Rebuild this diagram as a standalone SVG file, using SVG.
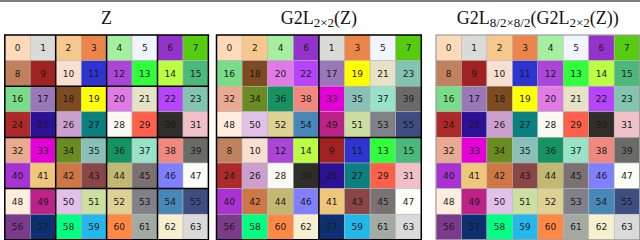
<svg xmlns="http://www.w3.org/2000/svg" width="640" height="240" viewBox="0 0 640 240">
<style>
.bg{fill:#ffffff}
.rule{stroke:#555555;stroke-width:1.5;fill:none}
.title{font-family:"Liberation Serif","DejaVu Serif",serif;font-size:18px;fill:#111111;text-anchor:middle}
.sub{font-size:13px}
rect.k{stroke:#b4b4b4;stroke-width:0.5}
text.n{font-family:"DejaVu Sans",sans-serif;font-size:9px;fill:#1a1a1a;text-anchor:middle}
.thick{stroke:#000000;stroke-width:1.5;fill:none}
.outer3{stroke:#9a9a9a;stroke-width:1;fill:none}
.c0{fill:#FFDAB9}.c1{fill:#DADAD6}.c2{fill:#F6C88E}.c3{fill:#EB8549}.c4{fill:#A6EFA0}.c5{fill:#F2F4FF}.c6{fill:#9433CC}.c7{fill:#55CC10}
.c8{fill:#C0825E}.c9{fill:#A02222}.c10{fill:#F9DFCF}.c11{fill:#2E34CF}.c12{fill:#A946D8}.c13{fill:#30FF3C}.c14{fill:#BBFF44}.c15{fill:#4CB87A}
.c16{fill:#78DC88}.c17{fill:#9A78B8}.c18{fill:#7E4A22}.c19{fill:#FFFF00}.c20{fill:#E07BE6}.c21{fill:#E6E2C6}.c22{fill:#B743FA}.c23{fill:#82C4B0}
.c24{fill:#AE2A2A}.c25{fill:#2C1096}.c26{fill:#CCA0CE}.c27{fill:#0A8080}.c28{fill:#FAFAF2}.c29{fill:#FF604C}.c30{fill:#2F2E28}.c31{fill:#F0BFC8}
.c32{fill:#E8AA90}.c33{fill:#E600D8}.c34{fill:#6A8A22}.c35{fill:#88C0B8}.c36{fill:#159462}.c37{fill:#98E2C8}.c38{fill:#F08880}.c39{fill:#6A6A66}
.c40{fill:#A832D2}.c41{fill:#EFC77A}.c42{fill:#CC7744}.c43{fill:#8A4646}.c44{fill:#C2B872}.c45{fill:#7A7272}.c46{fill:#8080FF}.c47{fill:#FBFFF8}
.c48{fill:#FFEEDD}.c49{fill:#BC2288}.c50{fill:#E2C0EA}.c51{fill:#CCDFA0}.c52{fill:#DED292}.c53{fill:#808088}.c54{fill:#4888B8}.c55{fill:#3E4E80}
.c56{fill:#7C3A8C}.c57{fill:#0E3070}.c58{fill:#00FF82}.c59{fill:#22B8EC}.c60{fill:#FF8844}.c61{fill:#A2AAA2}.c62{fill:#F6F0D0}.c63{fill:#DADADA}
</style>
<rect class="bg" x="0" y="0" width="640" height="240"/>
<line class="rule" x1="0" y1="1" x2="640" y2="1"/>

<g id="titles">
<text class="title" x="106.6" y="24">Z</text>
<text class="title" x="318.9" y="24">G2L<tspan class="sub" dy="3">2×2</tspan><tspan dy="-3">(Z)</tspan></text>
<text class="title" x="537.8" y="24">G2L<tspan class="sub" dy="3">8/2×8/2</tspan><tspan dy="-3">(G2L</tspan><tspan class="sub" dy="3">2×2</tspan><tspan dy="-3">(Z))</tspan></text>
</g>

<g id="grid-Z">
<g id="z-cells">
<rect class="k c0" x="4.8" y="35" width="25.5" height="25.6"/><rect class="k c1" x="30.2" y="35" width="25.5" height="25.6"/><rect class="k c2" x="55.7" y="35" width="25.5" height="25.6"/><rect class="k c3" x="81.2" y="35" width="25.5" height="25.6"/><rect class="k c4" x="106.6" y="35" width="25.5" height="25.6"/><rect class="k c5" x="132" y="35" width="25.5" height="25.6"/><rect class="k c6" x="157.5" y="35" width="25.5" height="25.6"/><rect class="k c7" x="183" y="35" width="25.4" height="25.6"/>
<rect class="k c8" x="4.8" y="60.6" width="25.5" height="25.6"/><rect class="k c9" x="30.2" y="60.6" width="25.5" height="25.6"/><rect class="k c10" x="55.7" y="60.6" width="25.5" height="25.6"/><rect class="k c11" x="81.2" y="60.6" width="25.5" height="25.6"/><rect class="k c12" x="106.6" y="60.6" width="25.5" height="25.6"/><rect class="k c13" x="132" y="60.6" width="25.5" height="25.6"/><rect class="k c14" x="157.5" y="60.6" width="25.5" height="25.6"/><rect class="k c15" x="183" y="60.6" width="25.4" height="25.6"/>
<rect class="k c16" x="4.8" y="86.2" width="25.5" height="25.6"/><rect class="k c17" x="30.2" y="86.2" width="25.5" height="25.6"/><rect class="k c18" x="55.7" y="86.2" width="25.5" height="25.6"/><rect class="k c19" x="81.2" y="86.2" width="25.5" height="25.6"/><rect class="k c20" x="106.6" y="86.2" width="25.5" height="25.6"/><rect class="k c21" x="132" y="86.2" width="25.5" height="25.6"/><rect class="k c22" x="157.5" y="86.2" width="25.5" height="25.6"/><rect class="k c23" x="183" y="86.2" width="25.4" height="25.6"/>
<rect class="k c24" x="4.8" y="111.8" width="25.5" height="25.6"/><rect class="k c25" x="30.2" y="111.8" width="25.5" height="25.6"/><rect class="k c26" x="55.7" y="111.8" width="25.5" height="25.6"/><rect class="k c27" x="81.2" y="111.8" width="25.5" height="25.6"/><rect class="k c28" x="106.6" y="111.8" width="25.5" height="25.6"/><rect class="k c29" x="132" y="111.8" width="25.5" height="25.6"/><rect class="k c30" x="157.5" y="111.8" width="25.5" height="25.6"/><rect class="k c31" x="183" y="111.8" width="25.4" height="25.6"/>
<rect class="k c32" x="4.8" y="137.4" width="25.5" height="25.6"/><rect class="k c33" x="30.2" y="137.4" width="25.5" height="25.6"/><rect class="k c34" x="55.7" y="137.4" width="25.5" height="25.6"/><rect class="k c35" x="81.2" y="137.4" width="25.5" height="25.6"/><rect class="k c36" x="106.6" y="137.4" width="25.5" height="25.6"/><rect class="k c37" x="132" y="137.4" width="25.5" height="25.6"/><rect class="k c38" x="157.5" y="137.4" width="25.5" height="25.6"/><rect class="k c39" x="183" y="137.4" width="25.4" height="25.6"/>
<rect class="k c40" x="4.8" y="163" width="25.5" height="25.6"/><rect class="k c41" x="30.2" y="163" width="25.5" height="25.6"/><rect class="k c42" x="55.7" y="163" width="25.5" height="25.6"/><rect class="k c43" x="81.2" y="163" width="25.5" height="25.6"/><rect class="k c44" x="106.6" y="163" width="25.5" height="25.6"/><rect class="k c45" x="132" y="163" width="25.5" height="25.6"/><rect class="k c46" x="157.5" y="163" width="25.5" height="25.6"/><rect class="k c47" x="183" y="163" width="25.4" height="25.6"/>
<rect class="k c48" x="4.8" y="188.6" width="25.5" height="25.6"/><rect class="k c49" x="30.2" y="188.6" width="25.5" height="25.6"/><rect class="k c50" x="55.7" y="188.6" width="25.5" height="25.6"/><rect class="k c51" x="81.2" y="188.6" width="25.5" height="25.6"/><rect class="k c52" x="106.6" y="188.6" width="25.5" height="25.6"/><rect class="k c53" x="132" y="188.6" width="25.5" height="25.6"/><rect class="k c54" x="157.5" y="188.6" width="25.5" height="25.6"/><rect class="k c55" x="183" y="188.6" width="25.4" height="25.6"/>
<rect class="k c56" x="4.8" y="214.2" width="25.5" height="25.6"/><rect class="k c57" x="30.2" y="214.2" width="25.5" height="25.6"/><rect class="k c58" x="55.7" y="214.2" width="25.5" height="25.6"/><rect class="k c59" x="81.2" y="214.2" width="25.5" height="25.6"/><rect class="k c60" x="106.6" y="214.2" width="25.5" height="25.6"/><rect class="k c61" x="132" y="214.2" width="25.5" height="25.6"/><rect class="k c62" x="157.5" y="214.2" width="25.5" height="25.6"/><rect class="k c63" x="183" y="214.2" width="25.4" height="25.6"/>
</g>
<g id="z-labels">
<text class="n" x="17.5" y="51.1">0</text><text class="n" x="43" y="51.1">1</text><text class="n" x="68.4" y="51.1">2</text><text class="n" x="93.9" y="51.1">3</text><text class="n" x="119.3" y="51.1">4</text><text class="n" x="144.8" y="51.1">5</text><text class="n" x="170.2" y="51.1">6</text><text class="n" x="195.7" y="51.1">7</text>
<text class="n" x="17.5" y="76.7">8</text><text class="n" x="43" y="76.7">9</text><text class="n" x="68.4" y="76.7">10</text><text class="n" x="93.9" y="76.7">11</text><text class="n" x="119.3" y="76.7">12</text><text class="n" x="144.8" y="76.7">13</text><text class="n" x="170.2" y="76.7">14</text><text class="n" x="195.7" y="76.7">15</text>
<text class="n" x="17.5" y="102.3">16</text><text class="n" x="43" y="102.3">17</text><text class="n" x="68.4" y="102.3">18</text><text class="n" x="93.9" y="102.3">19</text><text class="n" x="119.3" y="102.3">20</text><text class="n" x="144.8" y="102.3">21</text><text class="n" x="170.2" y="102.3">22</text><text class="n" x="195.7" y="102.3">23</text>
<text class="n" x="17.5" y="127.9">24</text><text class="n" x="43" y="127.9">25</text><text class="n" x="68.4" y="127.9">26</text><text class="n" x="93.9" y="127.9">27</text><text class="n" x="119.3" y="127.9">28</text><text class="n" x="144.8" y="127.9">29</text><text class="n" x="170.2" y="127.9">30</text><text class="n" x="195.7" y="127.9">31</text>
<text class="n" x="17.5" y="153.5">32</text><text class="n" x="43" y="153.5">33</text><text class="n" x="68.4" y="153.5">34</text><text class="n" x="93.9" y="153.5">35</text><text class="n" x="119.3" y="153.5">36</text><text class="n" x="144.8" y="153.5">37</text><text class="n" x="170.2" y="153.5">38</text><text class="n" x="195.7" y="153.5">39</text>
<text class="n" x="17.5" y="179.1">40</text><text class="n" x="43" y="179.1">41</text><text class="n" x="68.4" y="179.1">42</text><text class="n" x="93.9" y="179.1">43</text><text class="n" x="119.3" y="179.1">44</text><text class="n" x="144.8" y="179.1">45</text><text class="n" x="170.2" y="179.1">46</text><text class="n" x="195.7" y="179.1">47</text>
<text class="n" x="17.5" y="204.7">48</text><text class="n" x="43" y="204.7">49</text><text class="n" x="68.4" y="204.7">50</text><text class="n" x="93.9" y="204.7">51</text><text class="n" x="119.3" y="204.7">52</text><text class="n" x="144.8" y="204.7">53</text><text class="n" x="170.2" y="204.7">54</text><text class="n" x="195.7" y="204.7">55</text>
<text class="n" x="17.5" y="230.3">56</text><text class="n" x="43" y="230.3">57</text><text class="n" x="68.4" y="230.3">58</text><text class="n" x="93.9" y="230.3">59</text><text class="n" x="119.3" y="230.3">60</text><text class="n" x="144.8" y="230.3">61</text><text class="n" x="170.2" y="230.3">62</text><text class="n" x="195.7" y="230.3">63</text>
</g>
<path class="thick" d="M4.8 35H208.4V239.8H4.8Z M55.7 35V239.8 M106.6 35V239.8 M157.5 35V239.8 M4.8 86.2H208.4 M4.8 137.4H208.4 M4.8 188.6H208.4"/>
</g>

<g id="grid-G2L">
<g id="g-cells">
<rect class="k c0" x="216.5" y="35" width="25.6" height="25.6"/><rect class="k c2" x="242.1" y="35" width="25.6" height="25.6"/><rect class="k c4" x="267.7" y="35" width="25.6" height="25.6"/><rect class="k c6" x="293.3" y="35" width="25.6" height="25.6"/><rect class="k c1" x="318.9" y="35" width="25.6" height="25.6"/><rect class="k c3" x="344.5" y="35" width="25.6" height="25.6"/><rect class="k c5" x="370.1" y="35" width="25.6" height="25.6"/><rect class="k c7" x="395.7" y="35" width="25.6" height="25.6"/>
<rect class="k c16" x="216.5" y="60.6" width="25.6" height="25.6"/><rect class="k c18" x="242.1" y="60.6" width="25.6" height="25.6"/><rect class="k c20" x="267.7" y="60.6" width="25.6" height="25.6"/><rect class="k c22" x="293.3" y="60.6" width="25.6" height="25.6"/><rect class="k c17" x="318.9" y="60.6" width="25.6" height="25.6"/><rect class="k c19" x="344.5" y="60.6" width="25.6" height="25.6"/><rect class="k c21" x="370.1" y="60.6" width="25.6" height="25.6"/><rect class="k c23" x="395.7" y="60.6" width="25.6" height="25.6"/>
<rect class="k c32" x="216.5" y="86.2" width="25.6" height="25.6"/><rect class="k c34" x="242.1" y="86.2" width="25.6" height="25.6"/><rect class="k c36" x="267.7" y="86.2" width="25.6" height="25.6"/><rect class="k c38" x="293.3" y="86.2" width="25.6" height="25.6"/><rect class="k c33" x="318.9" y="86.2" width="25.6" height="25.6"/><rect class="k c35" x="344.5" y="86.2" width="25.6" height="25.6"/><rect class="k c37" x="370.1" y="86.2" width="25.6" height="25.6"/><rect class="k c39" x="395.7" y="86.2" width="25.6" height="25.6"/>
<rect class="k c48" x="216.5" y="111.8" width="25.6" height="25.6"/><rect class="k c50" x="242.1" y="111.8" width="25.6" height="25.6"/><rect class="k c52" x="267.7" y="111.8" width="25.6" height="25.6"/><rect class="k c54" x="293.3" y="111.8" width="25.6" height="25.6"/><rect class="k c49" x="318.9" y="111.8" width="25.6" height="25.6"/><rect class="k c51" x="344.5" y="111.8" width="25.6" height="25.6"/><rect class="k c53" x="370.1" y="111.8" width="25.6" height="25.6"/><rect class="k c55" x="395.7" y="111.8" width="25.6" height="25.6"/>
<rect class="k c8" x="216.5" y="137.4" width="25.6" height="25.6"/><rect class="k c10" x="242.1" y="137.4" width="25.6" height="25.6"/><rect class="k c12" x="267.7" y="137.4" width="25.6" height="25.6"/><rect class="k c14" x="293.3" y="137.4" width="25.6" height="25.6"/><rect class="k c9" x="318.9" y="137.4" width="25.6" height="25.6"/><rect class="k c11" x="344.5" y="137.4" width="25.6" height="25.6"/><rect class="k c13" x="370.1" y="137.4" width="25.6" height="25.6"/><rect class="k c15" x="395.7" y="137.4" width="25.6" height="25.6"/>
<rect class="k c24" x="216.5" y="163" width="25.6" height="25.6"/><rect class="k c26" x="242.1" y="163" width="25.6" height="25.6"/><rect class="k c28" x="267.7" y="163" width="25.6" height="25.6"/><rect class="k c30" x="293.3" y="163" width="25.6" height="25.6"/><rect class="k c25" x="318.9" y="163" width="25.6" height="25.6"/><rect class="k c27" x="344.5" y="163" width="25.6" height="25.6"/><rect class="k c29" x="370.1" y="163" width="25.6" height="25.6"/><rect class="k c31" x="395.7" y="163" width="25.6" height="25.6"/>
<rect class="k c40" x="216.5" y="188.6" width="25.6" height="25.6"/><rect class="k c42" x="242.1" y="188.6" width="25.6" height="25.6"/><rect class="k c44" x="267.7" y="188.6" width="25.6" height="25.6"/><rect class="k c46" x="293.3" y="188.6" width="25.6" height="25.6"/><rect class="k c41" x="318.9" y="188.6" width="25.6" height="25.6"/><rect class="k c43" x="344.5" y="188.6" width="25.6" height="25.6"/><rect class="k c45" x="370.1" y="188.6" width="25.6" height="25.6"/><rect class="k c47" x="395.7" y="188.6" width="25.6" height="25.6"/>
<rect class="k c56" x="216.5" y="214.2" width="25.6" height="25.6"/><rect class="k c58" x="242.1" y="214.2" width="25.6" height="25.6"/><rect class="k c60" x="267.7" y="214.2" width="25.6" height="25.6"/><rect class="k c62" x="293.3" y="214.2" width="25.6" height="25.6"/><rect class="k c57" x="318.9" y="214.2" width="25.6" height="25.6"/><rect class="k c59" x="344.5" y="214.2" width="25.6" height="25.6"/><rect class="k c61" x="370.1" y="214.2" width="25.6" height="25.6"/><rect class="k c63" x="395.7" y="214.2" width="25.6" height="25.6"/>
</g>
<g id="g-labels">
<text class="n" x="229.3" y="51.1">0</text><text class="n" x="254.9" y="51.1">2</text><text class="n" x="280.5" y="51.1">4</text><text class="n" x="306.1" y="51.1">6</text><text class="n" x="331.7" y="51.1">1</text><text class="n" x="357.3" y="51.1">3</text><text class="n" x="382.9" y="51.1">5</text><text class="n" x="408.5" y="51.1">7</text>
<text class="n" x="229.3" y="76.7">16</text><text class="n" x="254.9" y="76.7">18</text><text class="n" x="280.5" y="76.7">20</text><text class="n" x="306.1" y="76.7">22</text><text class="n" x="331.7" y="76.7">17</text><text class="n" x="357.3" y="76.7">19</text><text class="n" x="382.9" y="76.7">21</text><text class="n" x="408.5" y="76.7">23</text>
<text class="n" x="229.3" y="102.3">32</text><text class="n" x="254.9" y="102.3">34</text><text class="n" x="280.5" y="102.3">36</text><text class="n" x="306.1" y="102.3">38</text><text class="n" x="331.7" y="102.3">33</text><text class="n" x="357.3" y="102.3">35</text><text class="n" x="382.9" y="102.3">37</text><text class="n" x="408.5" y="102.3">39</text>
<text class="n" x="229.3" y="127.9">48</text><text class="n" x="254.9" y="127.9">50</text><text class="n" x="280.5" y="127.9">52</text><text class="n" x="306.1" y="127.9">54</text><text class="n" x="331.7" y="127.9">49</text><text class="n" x="357.3" y="127.9">51</text><text class="n" x="382.9" y="127.9">53</text><text class="n" x="408.5" y="127.9">55</text>
<text class="n" x="229.3" y="153.5">8</text><text class="n" x="254.9" y="153.5">10</text><text class="n" x="280.5" y="153.5">12</text><text class="n" x="306.1" y="153.5">14</text><text class="n" x="331.7" y="153.5">9</text><text class="n" x="357.3" y="153.5">11</text><text class="n" x="382.9" y="153.5">13</text><text class="n" x="408.5" y="153.5">15</text>
<text class="n" x="229.3" y="179.1">24</text><text class="n" x="254.9" y="179.1">26</text><text class="n" x="280.5" y="179.1">28</text><text class="n" x="306.1" y="179.1">30</text><text class="n" x="331.7" y="179.1">25</text><text class="n" x="357.3" y="179.1">27</text><text class="n" x="382.9" y="179.1">29</text><text class="n" x="408.5" y="179.1">31</text>
<text class="n" x="229.3" y="204.7">40</text><text class="n" x="254.9" y="204.7">42</text><text class="n" x="280.5" y="204.7">44</text><text class="n" x="306.1" y="204.7">46</text><text class="n" x="331.7" y="204.7">41</text><text class="n" x="357.3" y="204.7">43</text><text class="n" x="382.9" y="204.7">45</text><text class="n" x="408.5" y="204.7">47</text>
<text class="n" x="229.3" y="230.3">56</text><text class="n" x="254.9" y="230.3">58</text><text class="n" x="280.5" y="230.3">60</text><text class="n" x="306.1" y="230.3">62</text><text class="n" x="331.7" y="230.3">57</text><text class="n" x="357.3" y="230.3">59</text><text class="n" x="382.9" y="230.3">61</text><text class="n" x="408.5" y="230.3">63</text>
</g>
<path class="thick" d="M216.5 35H421.3V239.8H216.5Z M318.9 35V239.8 M216.5 137.4H421.3"/>
</g>

<g id="grid-G2L-G2L">
<g id="gg-cells">
<rect class="k c0" x="436" y="35" width="25.5" height="25.6"/><rect class="k c1" x="461.4" y="35" width="25.5" height="25.6"/><rect class="k c2" x="486.9" y="35" width="25.5" height="25.6"/><rect class="k c3" x="512.4" y="35" width="25.5" height="25.6"/><rect class="k c4" x="537.8" y="35" width="25.5" height="25.6"/><rect class="k c5" x="563.2" y="35" width="25.5" height="25.6"/><rect class="k c6" x="588.7" y="35" width="25.5" height="25.6"/><rect class="k c7" x="614.2" y="35" width="25.4" height="25.6"/>
<rect class="k c8" x="436" y="60.6" width="25.5" height="25.6"/><rect class="k c9" x="461.4" y="60.6" width="25.5" height="25.6"/><rect class="k c10" x="486.9" y="60.6" width="25.5" height="25.6"/><rect class="k c11" x="512.4" y="60.6" width="25.5" height="25.6"/><rect class="k c12" x="537.8" y="60.6" width="25.5" height="25.6"/><rect class="k c13" x="563.2" y="60.6" width="25.5" height="25.6"/><rect class="k c14" x="588.7" y="60.6" width="25.5" height="25.6"/><rect class="k c15" x="614.2" y="60.6" width="25.4" height="25.6"/>
<rect class="k c16" x="436" y="86.2" width="25.5" height="25.6"/><rect class="k c17" x="461.4" y="86.2" width="25.5" height="25.6"/><rect class="k c18" x="486.9" y="86.2" width="25.5" height="25.6"/><rect class="k c19" x="512.4" y="86.2" width="25.5" height="25.6"/><rect class="k c20" x="537.8" y="86.2" width="25.5" height="25.6"/><rect class="k c21" x="563.2" y="86.2" width="25.5" height="25.6"/><rect class="k c22" x="588.7" y="86.2" width="25.5" height="25.6"/><rect class="k c23" x="614.2" y="86.2" width="25.4" height="25.6"/>
<rect class="k c24" x="436" y="111.8" width="25.5" height="25.6"/><rect class="k c25" x="461.4" y="111.8" width="25.5" height="25.6"/><rect class="k c26" x="486.9" y="111.8" width="25.5" height="25.6"/><rect class="k c27" x="512.4" y="111.8" width="25.5" height="25.6"/><rect class="k c28" x="537.8" y="111.8" width="25.5" height="25.6"/><rect class="k c29" x="563.2" y="111.8" width="25.5" height="25.6"/><rect class="k c30" x="588.7" y="111.8" width="25.5" height="25.6"/><rect class="k c31" x="614.2" y="111.8" width="25.4" height="25.6"/>
<rect class="k c32" x="436" y="137.4" width="25.5" height="25.6"/><rect class="k c33" x="461.4" y="137.4" width="25.5" height="25.6"/><rect class="k c34" x="486.9" y="137.4" width="25.5" height="25.6"/><rect class="k c35" x="512.4" y="137.4" width="25.5" height="25.6"/><rect class="k c36" x="537.8" y="137.4" width="25.5" height="25.6"/><rect class="k c37" x="563.2" y="137.4" width="25.5" height="25.6"/><rect class="k c38" x="588.7" y="137.4" width="25.5" height="25.6"/><rect class="k c39" x="614.2" y="137.4" width="25.4" height="25.6"/>
<rect class="k c40" x="436" y="163" width="25.5" height="25.6"/><rect class="k c41" x="461.4" y="163" width="25.5" height="25.6"/><rect class="k c42" x="486.9" y="163" width="25.5" height="25.6"/><rect class="k c43" x="512.4" y="163" width="25.5" height="25.6"/><rect class="k c44" x="537.8" y="163" width="25.5" height="25.6"/><rect class="k c45" x="563.2" y="163" width="25.5" height="25.6"/><rect class="k c46" x="588.7" y="163" width="25.5" height="25.6"/><rect class="k c47" x="614.2" y="163" width="25.4" height="25.6"/>
<rect class="k c48" x="436" y="188.6" width="25.5" height="25.6"/><rect class="k c49" x="461.4" y="188.6" width="25.5" height="25.6"/><rect class="k c50" x="486.9" y="188.6" width="25.5" height="25.6"/><rect class="k c51" x="512.4" y="188.6" width="25.5" height="25.6"/><rect class="k c52" x="537.8" y="188.6" width="25.5" height="25.6"/><rect class="k c53" x="563.2" y="188.6" width="25.5" height="25.6"/><rect class="k c54" x="588.7" y="188.6" width="25.5" height="25.6"/><rect class="k c55" x="614.2" y="188.6" width="25.4" height="25.6"/>
<rect class="k c56" x="436" y="214.2" width="25.5" height="25.6"/><rect class="k c57" x="461.4" y="214.2" width="25.5" height="25.6"/><rect class="k c58" x="486.9" y="214.2" width="25.5" height="25.6"/><rect class="k c59" x="512.4" y="214.2" width="25.5" height="25.6"/><rect class="k c60" x="537.8" y="214.2" width="25.5" height="25.6"/><rect class="k c61" x="563.2" y="214.2" width="25.5" height="25.6"/><rect class="k c62" x="588.7" y="214.2" width="25.5" height="25.6"/><rect class="k c63" x="614.2" y="214.2" width="25.4" height="25.6"/>
</g>
<g id="gg-labels">
<text class="n" x="448.7" y="51.1">0</text><text class="n" x="474.2" y="51.1">1</text><text class="n" x="499.6" y="51.1">2</text><text class="n" x="525.1" y="51.1">3</text><text class="n" x="550.5" y="51.1">4</text><text class="n" x="576" y="51.1">5</text><text class="n" x="601.4" y="51.1">6</text><text class="n" x="626.9" y="51.1">7</text>
<text class="n" x="448.7" y="76.7">8</text><text class="n" x="474.2" y="76.7">9</text><text class="n" x="499.6" y="76.7">10</text><text class="n" x="525.1" y="76.7">11</text><text class="n" x="550.5" y="76.7">12</text><text class="n" x="576" y="76.7">13</text><text class="n" x="601.4" y="76.7">14</text><text class="n" x="626.9" y="76.7">15</text>
<text class="n" x="448.7" y="102.3">16</text><text class="n" x="474.2" y="102.3">17</text><text class="n" x="499.6" y="102.3">18</text><text class="n" x="525.1" y="102.3">19</text><text class="n" x="550.5" y="102.3">20</text><text class="n" x="576" y="102.3">21</text><text class="n" x="601.4" y="102.3">22</text><text class="n" x="626.9" y="102.3">23</text>
<text class="n" x="448.7" y="127.9">24</text><text class="n" x="474.2" y="127.9">25</text><text class="n" x="499.6" y="127.9">26</text><text class="n" x="525.1" y="127.9">27</text><text class="n" x="550.5" y="127.9">28</text><text class="n" x="576" y="127.9">29</text><text class="n" x="601.4" y="127.9">30</text><text class="n" x="626.9" y="127.9">31</text>
<text class="n" x="448.7" y="153.5">32</text><text class="n" x="474.2" y="153.5">33</text><text class="n" x="499.6" y="153.5">34</text><text class="n" x="525.1" y="153.5">35</text><text class="n" x="550.5" y="153.5">36</text><text class="n" x="576" y="153.5">37</text><text class="n" x="601.4" y="153.5">38</text><text class="n" x="626.9" y="153.5">39</text>
<text class="n" x="448.7" y="179.1">40</text><text class="n" x="474.2" y="179.1">41</text><text class="n" x="499.6" y="179.1">42</text><text class="n" x="525.1" y="179.1">43</text><text class="n" x="550.5" y="179.1">44</text><text class="n" x="576" y="179.1">45</text><text class="n" x="601.4" y="179.1">46</text><text class="n" x="626.9" y="179.1">47</text>
<text class="n" x="448.7" y="204.7">48</text><text class="n" x="474.2" y="204.7">49</text><text class="n" x="499.6" y="204.7">50</text><text class="n" x="525.1" y="204.7">51</text><text class="n" x="550.5" y="204.7">52</text><text class="n" x="576" y="204.7">53</text><text class="n" x="601.4" y="204.7">54</text><text class="n" x="626.9" y="204.7">55</text>
<text class="n" x="448.7" y="230.3">56</text><text class="n" x="474.2" y="230.3">57</text><text class="n" x="499.6" y="230.3">58</text><text class="n" x="525.1" y="230.3">59</text><text class="n" x="550.5" y="230.3">60</text><text class="n" x="576" y="230.3">61</text><text class="n" x="601.4" y="230.3">62</text><text class="n" x="626.9" y="230.3">63</text>
</g>
<rect class="outer3" x="436" y="35" width="203.6" height="204.8"/>
</g>
</svg>
